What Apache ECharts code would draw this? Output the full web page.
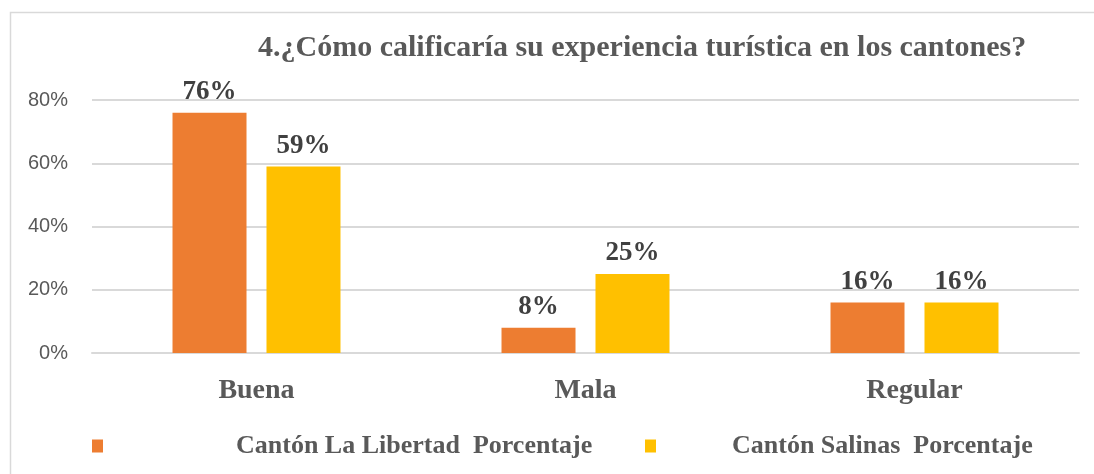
<!DOCTYPE html>
<html>
<head>
<meta charset="utf-8">
<script src="https://cdn.jsdelivr.net/npm/echarts@6/dist/echarts.min.js"></script>
<style>
  html, body { margin: 0; padding: 0; background: #fff; }
  #chart { width: 1094px; height: 474px; }
</style>
</head>
<body>
<div id="chart"></div>
<script>
// Ratings of the tourist experience, per canton (percent)
const categories = ['Buena', 'Mala', 'Regular'];
const libertadValues = [76, 8, 16];
const salinasValues = [59, 25, 16];
const seriesNames = ['Cantón La Libertad  Porcentaje', 'Cantón Salinas  Porcentaje'];
const titleText = '4.¿Cómo calificaría su experiencia turística en los cantones?';

const serif = '"Liberation Serif", "DejaVu Serif", serif';
const sans = '"Liberation Sans", "Open Sans", sans-serif';

const chart = echarts.init(document.getElementById('chart'), null, { renderer: 'canvas' });

const barLabel = {
  show: true,
  position: 'top',
  distance: 7,
  formatter: '{c}%',
  fontFamily: serif,
  fontWeight: 'bold',
  fontSize: 27,
  color: '#404040'
};

function legendFor(name, left, gap) {
  return {
    left: left,
    top: 428,
    itemWidth: 11,
    itemHeight: 13,
    icon: 'rect',
    data: [name],
    textStyle: {
      fontFamily: serif,
      fontWeight: 'bold',
      fontSize: 26,
      color: '#595959',
      padding: [0, 0, 0, gap]
    }
  };
}

chart.setOption({
  animation: false,
  backgroundColor: '#ffffff',
  graphic: [{
    type: 'rect',
    shape: { x: 10.5, y: 12.5, width: 1200, height: 600 },
    style: { fill: 'none', stroke: '#d9d9d9', lineWidth: 1.5 },
    z: -1
  }],
  title: {
    text: titleText,
    left: 253,
    top: 28,
    textStyle: {
      fontFamily: serif,
      fontWeight: 'bold',
      fontSize: 30,
      color: '#595959'
    }
  },
  grid: { left: 92, right: 15, top: 100, bottom: 121 },
  legend: [
    legendFor(seriesNames[0], 87, 128),
    legendFor(seriesNames[1], 640, 71)
  ],
  xAxis: {
    type: 'category',
    data: categories,
    axisTick: { show: false },
    axisLine: { lineStyle: { color: '#d9d9d9', width: 2 } },
    axisLabel: {
      margin: 24,
      fontFamily: serif,
      fontWeight: 'bold',
      fontSize: 28,
      color: '#595959'
    }
  },
  yAxis: {
    type: 'value',
    min: 0,
    max: 80,
    interval: 20,
    axisLine: { show: false },
    axisTick: { show: false },
    splitLine: { lineStyle: { color: '#d9d9d9', width: 2 } },
    axisLabel: {
      formatter: '{value}%',
      margin: 24,
      fontFamily: sans,
      fontSize: 20,
      color: '#595959'
    }
  },
  series: [
    {
      name: seriesNames[0],
      type: 'bar',
      data: libertadValues,
      barWidth: 74,
      barGap: '27%',
      itemStyle: { color: '#ED7D31' },
      label: barLabel
    },
    {
      name: seriesNames[1],
      type: 'bar',
      data: salinasValues,
      barWidth: 74,
      itemStyle: { color: '#FFC000' },
      label: barLabel
    }
  ]
});
</script>
</body>
</html>
